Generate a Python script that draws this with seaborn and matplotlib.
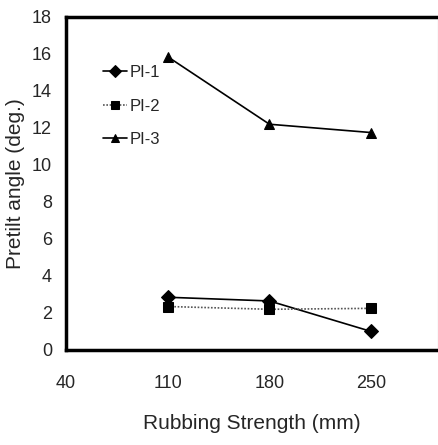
import numpy as np
import pandas as pd
import matplotlib
matplotlib.use("Agg")
import matplotlib.pyplot as plt
import seaborn as sns

# valeurs
strength = [110, 180, 250]
pi1 = [2.85, 2.65, 1.0]
pi2 = [2.35, 2.2, 2.25]
pi3 = [15.85, 12.2, 11.75]
series_names = ["PI-1", "PI-2", "PI-3"]
x_ticks = [40, 110, 180, 250]
y_ticks = list(range(0, 19, 2))

sns.set_style("white")
plt.rcParams['font.family'] = ['Liberation Sans Narrow', 'Liberation Sans', 'DejaVu Sans']

df = pd.DataFrame({
    "strength": strength * 3,
    "angle": pi1 + pi2 + pi3,
    "series": [n for n in series_names for _ in strength],
})

fig = plt.figure(figsize=(4.39, 4.45), dpi=100)
ax = fig.add_axes([0.150, 0.2135, 0.848, 0.7485])

sns.lineplot(data=df, x="strength", y="angle", hue="series", style="series",
             markers={"PI-1": "D", "PI-2": "s", "PI-3": "^"},
             dashes={"PI-1": "", "PI-2": (1, 1), "PI-3": ""},
             palette={"PI-1": "black", "PI-2": "#555555", "PI-3": "black"},
             markersize=7, markeredgecolor="black", markerfacecolor="black",
             linewidth=1.2, ax=ax)

ax.set_xlim(40, 296)
ax.set_ylim(0, 18)
ax.set_xticks(x_ticks)
ax.set_yticks(y_ticks)
ax.tick_params(direction="in", length=4, width=1, labelsize=13, pad=18, axis="x")
ax.tick_params(direction="in", length=4, width=1, labelsize=13, pad=10, axis="y")
ax.set_xlabel("Rubbing Strength (mm)", fontsize=15, labelpad=16)
ax.set_ylabel("Pretilt angle (deg.)", fontsize=15, labelpad=5)

for s in ["left", "bottom", "top"]:
    ax.spines[s].set_linewidth(2.5)
    ax.spines[s].set_color("black")
ax.spines["right"].set_linewidth(0.8)
ax.spines["right"].set_color("#999999")

leg = ax.legend(loc="upper left", bbox_to_anchor=(0.06, 0.90), frameon=False,
                fontsize=12, handlelength=1.4, handletextpad=0.2, labelspacing=1.1,
                markerscale=0.85)

fig.savefig("out.png", dpi=100)
